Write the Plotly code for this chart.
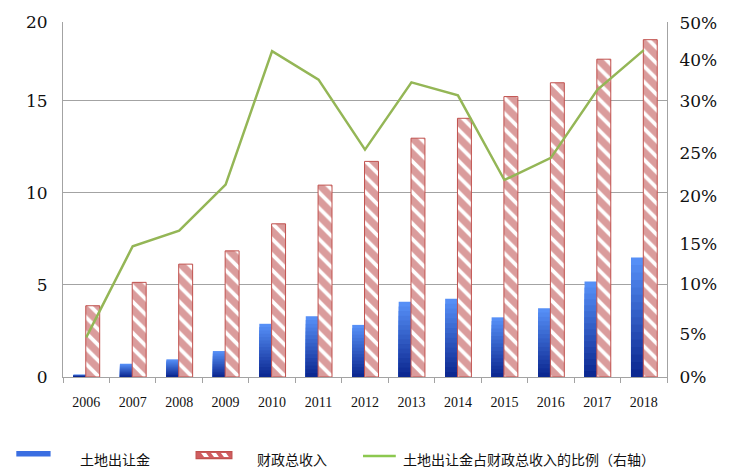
import plotly.graph_objects as go

# ---------------- data ----------------
years = ["2006", "2007", "2008", "2009", "2010", "2011", "2012",
         "2013", "2014", "2015", "2016", "2017", "2018"]
land_revenue = [0.13, 0.72, 0.96, 1.41, 2.89, 3.30, 2.83, 4.09, 4.25, 3.24, 3.73, 5.19, 6.49]
fiscal_revenue = [3.87, 5.14, 6.13, 6.85, 8.32, 10.42, 11.71, 12.97, 14.05, 15.23, 15.98, 17.26, 18.32]
land_share_pct = [4.3, 14.2, 15.9, 20.9, 35.4, 32.3, 24.7, 32.0, 30.6, 21.4, 23.8, 31.2, 35.5]

left_tick_text = ["0", "5", "10", "15", "20"]
right_tick_text = ["0%", "5%", "10%", "15%", "20%", "25%", "30%", "40%", "50%"]
legend_names = ["土地出让金", "财政总收入", "土地出让金占财政总收入的比例（右轴）"]

# ---------------- layout constants ----------------
W, H = 729, 471
PL, PT, PR, PB = 63, 20, 671, 377   # plot area in pixels
PW, PH = PR - PL, PB - PT
Y_TOP = 19.28                      # left axis top value
left_tick_vals = [0, 5, 10, 15, Y_TOP]
right_tick_vals = [0, 4.7, 10.1, 14.45, 19.7, 24.3, 30.0, 34.45, 38.45]

SERIF = "DejaVu Serif"
CJK = "Noto Sans CJK SC"
GRID = "#a3a3a3"

fig = go.Figure()

# blue bars with vertical gradient (light top -> dark bottom), built as overlaid segments
N = 16
top_rgb = (86, 143, 246)
bot_rgb = (12, 40, 145)
for k in range(N):
    t = k / (N - 1)
    c = tuple(round(top_rgb[i] + (bot_rgb[i] - top_rgb[i]) * t) for i in range(3))
    fig.add_trace(go.Bar(
        x=years, y=[v * (N - k) / N for v in land_revenue],
        width=0.265, offset=-0.275,
        marker=dict(color="rgb(%d,%d,%d)" % c, line=dict(width=0)),
        name=legend_names[0], showlegend=False, hoverinfo="skip", yaxis="y"))

# red hatched bars
fig.add_trace(go.Bar(
    x=years, y=fiscal_revenue, width=0.30, offset=-0.01,
    marker=dict(color="white",
                line=dict(color="#c0504d", width=1),
                pattern=dict(shape="\\", fgcolor="#b5393a", bgcolor="white",
                             size=11, solidity=0.66)),
    name=legend_names[1], showlegend=False, yaxis="y"))

# green share line (right axis)
fig.add_trace(go.Scatter(
    x=years, y=land_share_pct, mode="lines",
    line=dict(color="#94b656", width=2.5),
    name=legend_names[2], showlegend=False, yaxis="y2"))


# ---------------- legend (drawn) ----------------
def px(x):
    return (x - PL) / PW


def py(y):
    return (PB - y) / PH


shapes = []
# blue key
shapes.append(dict(type="rect", xref="paper", yref="paper",
                   x0=px(16), x1=px(50.5), y0=py(457), y1=py(451.5),
                   fillcolor="#3a6ee2", line=dict(width=0), layer="above"))
# red hatched key
shapes.append(dict(type="rect", xref="paper", yref="paper",
                   x0=px(197), x1=px(233), y0=py(459), y1=py(452),
                   fillcolor="#cf5d60", line=dict(color="#c0504d", width=1.2), layer="above"))
for i in range(3):
    x0 = 202 + i * 10
    path = "M %f %f L %f %f L %f %f L %f %f Z" % (
        px(x0), py(453.5), px(x0 + 5), py(453.5), px(x0 + 8), py(457.5), px(x0 + 3), py(457.5))
    shapes.append(dict(type="path", xref="paper", yref="paper", path=path,
                       fillcolor="white", line=dict(width=0), layer="above"))
# green key
shapes.append(dict(type="line", xref="paper", yref="paper",
                   x0=px(365), x1=px(398), y0=py(456.5), y1=py(456.5),
                   line=dict(color="#8cc84f", width=2.5), layer="above"))

annotations = []
for xpos, txt in zip([78, 256, 403], legend_names):
    annotations.append(dict(xref="paper", yref="paper", x=px(xpos), y=py(459),
                            xanchor="left", yanchor="middle", showarrow=False,
                            text=txt, font=dict(family=CJK, size=14, color="#111")))

fig.update_layout(
    width=W, height=H,
    margin=dict(l=PL, r=W - PR, t=PT, b=H - PB, pad=0),
    paper_bgcolor="white", plot_bgcolor="white",
    barmode="overlay",
    showlegend=False,
    shapes=shapes, annotations=annotations,
    xaxis=dict(type="category", range=[-0.5, 12.5],
               showline=True, linecolor=GRID, linewidth=1,
               ticks="outside", tickson="boundaries", ticklen=5, tickcolor=GRID,
               showgrid=False, ticklabelstandoff=12,
               tickfont=dict(family="Liberation Serif", size=14, color="#111")),
    yaxis=dict(range=[0, Y_TOP], tickvals=left_tick_vals, ticktext=left_tick_text,
               showgrid=True, gridcolor=GRID, gridwidth=1,
               zeroline=False, showline=True, linecolor=GRID, linewidth=1,
               ticks="", ticklabelstandoff=11,
               tickfont=dict(family=SERIF, size=17, color="#111")),
    yaxis2=dict(range=[0, 2 * Y_TOP], overlaying="y", side="right",
                tickvals=right_tick_vals, ticktext=right_tick_text,
                showgrid=False, zeroline=False,
                showline=True, linecolor=GRID, linewidth=1,
                ticks="", ticklabelstandoff=8,
                tickfont=dict(family=SERIF, size=17, color="#111")),
)

# remove the default page margin so the 729x471 figure fills the window exactly
fig.write_html("out.html", config={"displayModeBar": False},
               post_script="document.body.style.margin='0px';")
